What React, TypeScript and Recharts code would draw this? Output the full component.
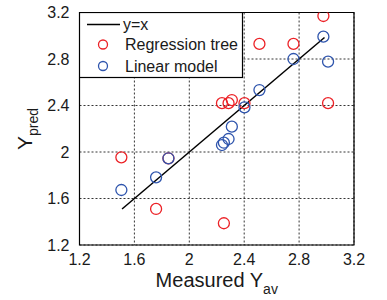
import { ScatterChart, Scatter, XAxis, YAxis, CartesianGrid, ReferenceArea, Legend, Label } from 'recharts'

const axisTicks = [1.2, 1.6, 2, 2.4, 2.8, 3.2]
const measured = [1.505, 1.758, 1.848, 2.238, 2.252, 2.286, 2.31, 2.402, 2.511, 2.759, 2.977, 3.011]
const treePred = [1.954, 1.51, 1.946, 2.42, 1.387, 2.42, 2.447, 2.42, 2.93, 2.93, 3.17, 2.42]
const linearPred = [1.673, 1.782, 1.946, 2.06, 2.08, 2.112, 2.218, 2.384, 2.533, 2.8, 2.992, 2.777]
const identityEnds = [1.51, 2.985]
const seriesNames = ['y=x', 'Regression tree', 'Linear model']

const RED = '#ec2227'
const BLUE = '#2f55ad'

const treeData = measured.map((x, i) => ({ x, y: treePred[i] }))
const linearData = measured.map((x, i) => ({ x, y: linearPred[i] }))
const identityData = identityEnds.map((v) => ({ x: v, y: v }))

function ring(color: string) {
	return (props: any) => (
		<circle cx={props.cx} cy={props.cy} r={5.5} fill="none" stroke={color} strokeWidth={1.3} />
	)
}

function XTitle(props: any) {
	const vb = props.viewBox
	return (
		<text x={vb.x + vb.width / 2} y={287} textAnchor="middle" fontSize={20} fill="#1a1a1a">
			Measured Y
			<tspan dy={7} fontSize={14}>av</tspan>
		</text>
	)
}

function YTitle() {
	const cx = 32
	const cy = 129
	return (
		<text x={cx} y={cy} textAnchor="middle" fontSize={21} fill="#1a1a1a" transform={`rotate(-90, ${cx}, ${cy})`}>
			Y
			<tspan dy={6} fontSize={14}>pred</tspan>
		</text>
	)
}

function LegendBox() {
	const rows = [12.5, 32.5, 54]
	return (
		<svg width={165} height={67} style={{ display: 'block' }}>
			<rect x={0.5} y={0.5} width={163} height={65} fill="#fff" stroke="#000" strokeWidth={1.2} />
			<line x1={8} x2={41} y1={rows[0]} y2={rows[0]} stroke="#000" strokeWidth={1.5} />
			<text x={44} y={rows[0] + 5.5} fontSize={16} fill="#1a1a1a">{seriesNames[0]}</text>
			<circle cx={24} cy={rows[1]} r={4.5} fill="none" stroke={RED} strokeWidth={1.3} />
			<text x={46} y={rows[1] + 5.5} fontSize={16} fill="#1a1a1a">{seriesNames[1]}</text>
			<circle cx={24} cy={rows[2]} r={4.5} fill="none" stroke={BLUE} strokeWidth={1.3} />
			<text x={46} y={rows[2] + 5.5} fontSize={16} fill="#1a1a1a">{seriesNames[2]}</text>
		</svg>
	)
}

export default function App() {
	return (
		<div style={{ position: 'absolute', left: 0, top: 0, fontFamily: '"Liberation Sans", Arial, sans-serif' }}>
			<ScatterChart width={387} height={300} margin={{ top: 12.5, right: 33, bottom: 0, left: 0 }}>
				<CartesianGrid stroke="#000" strokeDasharray="2 2" strokeWidth={0.8} />
				<XAxis
					type="number"
					dataKey="x"
					domain={[1.2, 3.2]}
					ticks={axisTicks}
					interval={0}
					height={55}
					tickLine={false}
					axisLine={false}
					tickMargin={3}
					tick={{ fill: '#1a1a1a', fontSize: 16 }}
					allowDataOverflow
				>
					<Label content={XTitle} />
				</XAxis>
				<YAxis
					type="number"
					dataKey="y"
					domain={[1.2, 3.2]}
					ticks={axisTicks}
					interval={0}
					width={79.5}
					tickLine={false}
					axisLine={false}
					tickMargin={4}
					tick={{ fill: '#1a1a1a', fontSize: 16 }}
					allowDataOverflow
				>
					<Label content={YTitle} />
				</YAxis>
				<ReferenceArea x1={1.2} x2={3.2} y1={1.2} y2={3.2} fill="none" stroke="#000" strokeWidth={1.2} fillOpacity={0} />
				<Scatter
					name={seriesNames[0]}
					data={identityData}
					line={{ stroke: '#000', strokeWidth: 1.5 }}
					shape={() => <g />}
					isAnimationActive={false}
				/>
				<Scatter name={seriesNames[1]} data={treeData} shape={ring(RED)} isAnimationActive={false} />
				<Scatter name={seriesNames[2]} data={linearData} shape={ring(BLUE)} isAnimationActive={false} />
				<Legend
					layout="vertical"
					align="center"
					verticalAlign="middle"
					content={LegendBox}
					wrapperStyle={{ position: 'absolute', left: 79, top: 12, width: 165, height: 67 }}
				/>
			</ScatterChart>
		</div>
	)
}
